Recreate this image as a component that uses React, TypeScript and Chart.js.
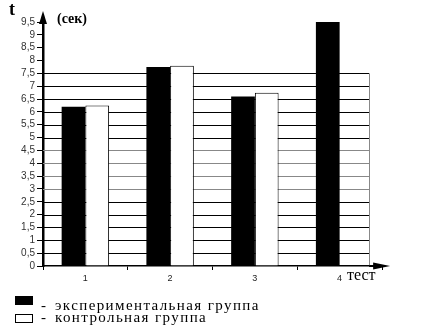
import React, { useEffect, useRef } from "react";
import { Chart, registerables } from "chart.js";

Chart.register(...registerables);

const categories = ["1", "2", "3", "4"];
const experimental = [6.2, 7.75, 6.6, 9.5];
const control: (number | null)[] = [6.25, 7.8, 6.75, null];
const seriesLabels = ["экспериментальная группа", "контрольная группа"];
const gridTop = 7.5;

const fmt = (v: number) => String(v).replace(".", ",");

const gridRight = (chart: any) => chart.chartArea.left + (chart.chartArea.right - chart.chartArea.left) * 0.962;

const gridPlugin = {
  id: "gridLines",
  beforeDatasetsDraw(chart: any) {
    const { ctx, chartArea } = chart;
    const y = chart.scales.y;
    const xr = gridRight(chart);
    ctx.save();
    ctx.lineWidth = 1;
    y.ticks.forEach((t: any) => {
      const v = t.value;
      if (v > gridTop || v === 0) return;
      const py = Math.round(y.getPixelForValue(v)) + 0.5;
      ctx.strokeStyle = v >= 3 && v <= 4.5 ? "#888" : "#000";
      ctx.beginPath();
      ctx.moveTo(chartArea.left, py);
      ctx.lineTo(xr, py);
      ctx.stroke();
    });
    ctx.strokeStyle = "#888";
    ctx.beginPath();
    ctx.moveTo(Math.round(xr) + 0.5, y.getPixelForValue(gridTop));
    ctx.lineTo(Math.round(xr) + 0.5, chartArea.bottom);
    ctx.stroke();
    ctx.restore();
  },
};

const decorPlugin = {
  id: "decor",
  afterDraw(chart: any) {
    const { ctx, chartArea } = chart;
    const { left, top, bottom } = chartArea;
    const xr = gridRight(chart);
    ctx.save();
    ctx.strokeStyle = "#000";
    ctx.fillStyle = "#000";
    // y axis arrow
    ctx.lineWidth = 2.5;
    ctx.beginPath();
    ctx.moveTo(left, top);
    ctx.lineTo(left, top - 4);
    ctx.stroke();
    ctx.beginPath();
    ctx.moveTo(left, top - 11);
    ctx.lineTo(left - 4, top + 2);
    ctx.lineTo(left + 4, top + 2);
    ctx.closePath();
    ctx.fill();
    // x axis arrow
    ctx.lineWidth = 2;
    ctx.beginPath();
    ctx.moveTo(xr, bottom);
    ctx.lineTo(xr + 10, bottom);
    ctx.stroke();
    ctx.beginPath();
    ctx.moveTo(xr + 21, bottom);
    ctx.lineTo(xr + 4, bottom - 3.5);
    ctx.lineTo(xr + 4, bottom + 3.5);
    ctx.closePath();
    ctx.fill();
    // texts
    ctx.textBaseline = "alphabetic";
    ctx.textAlign = "left";
    ctx.font = "bold 18px 'Liberation Serif'";
    ctx.fillText("t", 9, 15);
    ctx.font = "bold 14px 'Liberation Serif'";
    ctx.fillText("(сек)", 57, 23);
    ctx.font = "16px 'Liberation Serif'";
    ctx.fillText("тест", 347, bottom + 14);
    ctx.restore();
  },
};

export default function App() {
  const ref = useRef<HTMLCanvasElement | null>(null);
  useEffect(() => {
    document.body.style.margin = "0";
    const chart = new Chart(ref.current!, {
      type: "bar",
      data: {
        labels: categories,
        datasets: [
          {
            label: seriesLabels[0],
            data: experimental,
            backgroundColor: "#000",
            borderColor: "#000",
            borderWidth: 0,
          },
          {
            label: seriesLabels[1],
            data: control,
            backgroundColor: "#fff",
            borderColor: "#000",
            borderWidth: 1,
          },
        ],
      },
      plugins: [gridPlugin, decorPlugin],
      options: {
        animation: false,
        responsive: false,
        maintainAspectRatio: false,
        datasets: { bar: { barPercentage: 1, categoryPercentage: 0.56 } },
        layout: { padding: { left: 0, right: 47, top: 22, bottom: 48 } },
        plugins: { legend: { display: false }, tooltip: { enabled: false } },
        scales: {
          x: {
            afterFit: (s: any) => {
              s.height = 20;
            },
            grid: {
              display: true,
              drawOnChartArea: false,
              offset: true,
              tickLength: 4,
              color: "#000",
            },
            border: { display: true, color: "#000", width: 1.5 },
            ticks: {
              color: "#222",
              font: { family: "'Liberation Sans'", size: 9 },
              padding: 3,
            },
          },
          y: {
            min: 0,
            max: 9.5,
            afterFit: (s: any) => {
              s.width = 43;
            },
            ticks: {
              stepSize: 0.5,
              autoSkip: false,
              color: "#333",
              font: { family: "'Liberation Sans'", size: 10 },
              padding: 2,
              callback: (v: any) => fmt(Number(v)),
            },
            grid: {
              drawOnChartArea: false,
              drawTicks: true,
              tickLength: 6,
              tickColor: "#000",
              lineWidth: 1,
            },
            border: { display: true, color: "#000", width: 2.5 },
          },
        },
      },
    });
    return () => chart.destroy();
  }, []);

  const box = (fill: string) => ({
    position: "absolute" as const,
    left: 15,
    width: 18,
    height: 9,
    background: fill,
    border: "1px solid #000",
    boxSizing: "border-box" as const,
  });
  const text = {
    position: "absolute" as const,
    font: "15px 'Liberation Serif'",
    letterSpacing: "1.4px",
    lineHeight: "15px",
    color: "#000",
    whiteSpace: "nowrap" as const,
  };

  return (
    <div style={{ position: "relative", width: 429, height: 334, background: "#fff", fontFamily: "'Liberation Serif'" }}>
      <canvas ref={ref} width={429} height={334} style={{ display: "block" }} />
      <div style={{ ...box("#000"), top: 296 }} />
      <div style={{ ...text, left: 41, top: 298 }}>-</div>
      <div style={{ ...text, left: 55, top: 298 }}>{seriesLabels[0]}</div>
      <div style={{ ...box("#fff"), top: 314 }} />
      <div style={{ ...text, left: 41, top: 310 }}>-</div>
      <div style={{ ...text, left: 55, top: 310 }}>{seriesLabels[1]}</div>
    </div>
  );
}
